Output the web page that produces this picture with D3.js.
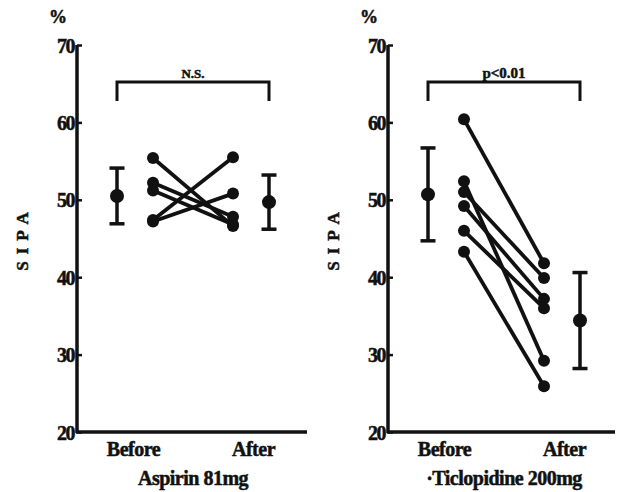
<!DOCTYPE html>
<html lang="en">
<head>
<meta charset="utf-8">
<title>SIPA before and after</title>
<script src="https://d3js.org/d3.v7.min.js"></script>
<style>
  body { margin: 0; background: #fff; }
  text { font-family: "Liberation Serif", "Times New Roman", serif; font-weight: bold; fill: #111;
         stroke: #111; stroke-width: 0.5px; }
</style>
</head>
<body>
<script>
// data
var phases = ["Before", "After"];
var yTicks = [20, 30, 40, 50, 60, 70];

var aspirinBefore = [55.4, 52.2, 51.2, 47.4, 47.2];
var aspirinAfter  = [46.6, 47.8, 46.8, 55.5, 50.8];
var aspirinMean = [50.5, 49.7];
var aspirinSD   = [3.6, 3.5];

var ticloBefore = [60.4, 52.4, 51.0, 49.2, 46.0, 43.3];
var ticloAfter  = [41.8, 29.2, 39.9, 37.2, 36.0, 25.9];
var ticloMean = [50.7, 34.4];
var ticloSD   = [6.0, 6.2];

var panels = [
  { x0: 77, right: 230, title: "Aspirin 81mg", sig: "N.S.", sigSize: 13,
    before: aspirinBefore, after: aspirinAfter, mean: aspirinMean, sd: aspirinSD },
  { x0: 388, right: 227, title: "\u00b7Ticlopidine 200mg", sig: "p<0.01", sigSize: 15,
    before: ticloBefore, after: ticloAfter, mean: ticloMean, sd: ticloSD }
];

var W = 618, H = 492;
var svg = d3.select("body").append("svg")
  .attr("width", W).attr("height", H);

var y = d3.scaleLinear().domain([20, 70]).range([432, 45]);
var x = d3.scalePoint().domain(phases).range([56, 176]);

panels.forEach(function(p) {
  var g = svg.append("g").attr("transform", "translate(" + p.x0 + ",0)");

  // y axis
  var yAxis = d3.axisLeft(y).tickValues(yTicks).tickSize(-5).tickPadding(4).tickFormat(d3.format("d"));
  var ya = g.append("g").call(yAxis);
  ya.select(".domain").attr("stroke", "#111").attr("stroke-width", 3.5).attr("d", "M0,45V433");
  ya.selectAll(".tick line").attr("stroke", "#111").attr("stroke-width", 2.5);
  ya.selectAll(".tick text").style("font-size", "20px").attr("x", -3).attr("dy", "0.35em")
    .style("letter-spacing", "-1.5px");

  // x axis
  var xa = g.append("g").attr("transform", "translate(0," + 432 + ")")
    .call(d3.axisBottom(x).tickSize(0).tickPadding(10));
  xa.select(".domain").attr("stroke", "#111").attr("stroke-width", 3.5).attr("d", "M-1,0H" + p.right);
  xa.selectAll(".tick text").style("font-size", "20px").style("letter-spacing", "-0.5px");

  // titles
  g.append("text").attr("x", 116).attr("y", 485).attr("text-anchor", "middle")
    .style("font-size", "20px").style("letter-spacing", "-0.5px").text(p.title);
  g.append("text").attr("x", -19).attr("y", 23).attr("text-anchor", "middle")
    .style("font-size", "18px").text("%");
  g.append("text").attr("transform", "translate(" + (-49) + ",238) rotate(-90)")
    .attr("text-anchor", "middle").style("font-size", "17px").style("letter-spacing", "7px")
    .text("SIPA");

  // significance bracket
  var bx0 = x("Before") - 16, bx1 = x("After") + 16;
  g.append("path").attr("fill", "none").attr("stroke", "#111").attr("stroke-width", 3)
    .attr("d", "M" + bx0 + ",101V82H" + bx1 + "V101");
  g.append("text").attr("x", (bx0 + bx1) / 2).attr("y", 78).attr("text-anchor", "middle")
    .style("font-size", p.sigSize + "px").text(p.sig);

  // individual lines
  var xb = x("Before") + 20, xaft = x("After") - 20;
  p.before.forEach(function(b, i) {
    var a = p.after[i];
    g.append("line").attr("x1", xb).attr("y1", y(b)).attr("x2", xaft).attr("y2", y(a))
      .attr("stroke", "#111").attr("stroke-width", 3.8);
    g.append("circle").attr("cx", xb).attr("cy", y(b)).attr("r", 6).attr("fill", "#111");
    g.append("circle").attr("cx", xaft).attr("cy", y(a)).attr("r", 6).attr("fill", "#111");
  });

  // mean +- SD
  phases.forEach(function(ph, i) {
    var cx = ph === "Before" ? x(ph) - 16 : x(ph) + 16;
    var m = p.mean[i], s = p.sd[i];
    g.append("line").attr("x1", cx).attr("x2", cx).attr("y1", y(m + s)).attr("y2", y(m - s))
      .attr("stroke", "#111").attr("stroke-width", 3.5);
    [m + s, m - s].forEach(function(v) {
      g.append("line").attr("x1", cx - 7.5).attr("x2", cx + 7.5).attr("y1", y(v)).attr("y2", y(v))
        .attr("stroke", "#111").attr("stroke-width", 3.5);
    });
    g.append("circle").attr("cx", cx).attr("cy", y(m)).attr("r", 7).attr("fill", "#111");
  });
});
</script>
</body>
</html>
